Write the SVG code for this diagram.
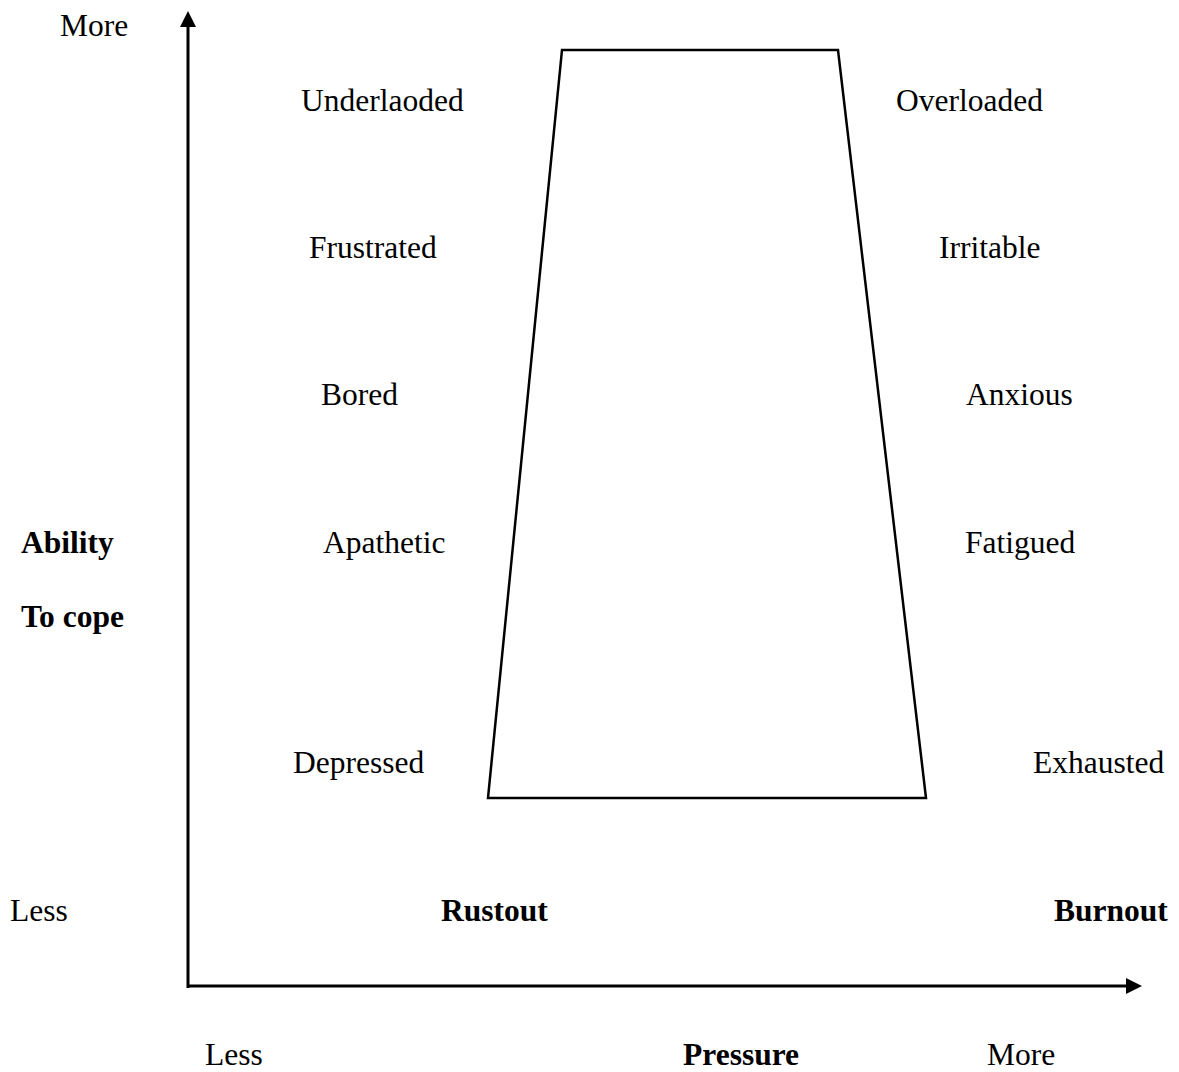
<svg xmlns="http://www.w3.org/2000/svg" width="1179" height="1072" viewBox="0 0 1179 1072">
<style>
text{font-family:"Liberation Serif","Times New Roman",serif;font-size:31.5px;fill:#000}
.b{font-weight:bold}
.ln{stroke:#000;stroke-width:3;fill:none}
</style>
<defs>
<marker id="ah" viewBox="0 0 16 16" refX="0" refY="8" markerWidth="16" markerHeight="16" markerUnits="userSpaceOnUse" orient="auto">
<path d="M0,0 L16,8 L0,16 Z" fill="#000"/>
</marker>
</defs>
<rect width="1179" height="1072" fill="#fff"/>
<g id="connectors">
<line class="ln" x1="188" y1="988" x2="188" y2="27" marker-end="url(#ah)"/>
<line class="ln" x1="187" y1="986" x2="1126" y2="986" marker-end="url(#ah)"/>
</g>
<g id="trapezoid">
<polygon points="562,50 838,50 926,798 488,798" fill="none" stroke="#000" stroke-width="2.5"/>
</g>
<g id="labels">
<text x="60" y="36">More</text>
<text x="301" y="111">Underlaoded</text>
<text x="896" y="111">Overloaded</text>
<text x="309" y="258">Frustrated</text>
<text x="939" y="258">Irritable</text>
<text x="321" y="405">Bored</text>
<text x="966" y="405">Anxious</text>
<text class="b" x="21" y="553">Ability</text>
<text x="323" y="553">Apathetic</text>
<text x="965" y="553">Fatigued</text>
<text class="b" x="21" y="627">To cope</text>
<text x="293" y="773">Depressed</text>
<text x="1033" y="773">Exhausted</text>
<text x="10" y="921">Less</text>
<text class="b" x="441" y="921">Rustout</text>
<text class="b" x="1054" y="921">Burnout</text>
<text x="205" y="1065">Less</text>
<text class="b" x="683" y="1065">Pressure</text>
<text x="987" y="1065">More</text>
</g>
</svg>
